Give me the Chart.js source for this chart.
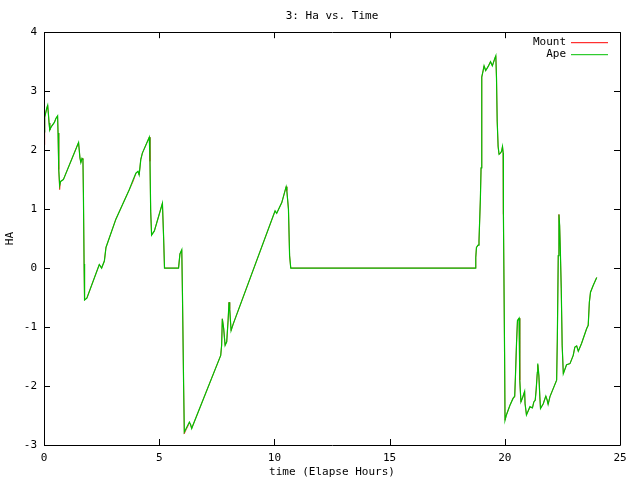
<!DOCTYPE html>
<html>
<head>
<meta charset="utf-8">
<script src="https://cdn.jsdelivr.net/npm/chart.js@4.4.1/dist/chart.umd.min.js"></script>
<style>
  html, body { margin: 0; padding: 0; background: #fff; }
  #wrap { width: 640px; height: 480px; }
</style>
</head>
<body>
<div id="wrap"><canvas id="chart1" width="640" height="480"></canvas></div>
<script>
// elapsed time in hours
const hours = [
    0.00, 0.03, 0.12, 0.16, 0.19, 0.22, 0.25, 0.32, 0.45, 0.52, 0.59, 0.61, 0.64, 0.68, 0.72, 0.84,
    1.50, 1.56, 1.60, 1.65, 1.69, 1.71, 1.74, 1.76, 1.86, 2.40, 2.50, 2.62, 2.69, 3.12, 3.70, 3.87,
    3.99, 4.08, 4.13, 4.20, 4.27, 4.57, 4.60, 4.63, 4.67, 4.79, 5.14, 5.19, 5.23, 5.84, 5.90, 5.98,
    6.01, 6.06, 6.09, 6.17, 6.31, 6.36, 6.41, 6.46, 7.67, 7.71, 7.74, 7.80, 7.86, 7.93, 7.99, 8.03,
    8.06, 8.12, 8.21, 10.03, 10.10, 10.32, 10.51, 10.54, 10.61, 10.66, 10.71, 18.71, 18.74, 18.77,
    18.84, 18.88, 18.94, 18.97, 18.99, 19.01, 19.06, 19.10, 19.17, 19.28, 19.38, 19.46, 19.57, 19.61,
    19.64, 19.67, 19.71, 19.75, 19.81, 19.86, 19.90, 19.93, 19.94, 19.99, 20.01, 20.07, 20.22, 20.36,
    20.43, 20.46, 20.51, 20.55, 20.62, 20.65, 20.70, 20.77, 20.86, 20.88, 20.94, 21.09, 21.20, 21.26,
    21.32, 21.36, 21.41, 21.43, 21.48, 21.52, 21.55, 21.67, 21.78, 21.84, 21.88, 21.96, 22.25, 22.28,
    22.32, 22.35, 22.38, 22.41, 22.45, 22.49, 22.54, 22.68, 22.83, 22.97, 23.04, 23.12, 23.19, 23.33,
    23.55, 23.62, 23.67, 23.72, 23.84, 23.99
];

const ape = [
    2.31, 2.56, 2.71, 2.76, 2.62, 2.46, 2.34, 2.40, 2.47, 2.54, 2.58, 2.29, 1.67, 1.40, 1.47, 1.50,
    2.13, 1.87, 1.79, 1.86, 1.84, 1.28, 0.07, -0.54, -0.51, 0.06, 0.00, 0.12, 0.35, 0.83, 1.33, 1.50,
    1.61, 1.64, 1.58, 1.84, 1.95, 2.22, 1.81, 0.97, 0.56, 0.63, 1.10, 0.54, 0.00, 0.00, 0.24, 0.31,
    -0.46, -1.99, -2.78, -2.72, -2.61, -2.65, -2.72, -2.67, -1.48, -1.31, -0.86, -1.03, -1.31, -1.25, -0.89, -0.58,
    -0.69, -1.06, -0.95, 0.97, 0.93, 1.11, 1.38, 1.31, 1.00, 0.21, 0.00, 0.00, 0.18, 0.35,
    0.39, 0.46, 1.17, 1.70, 2.52, 3.24, 3.35, 3.43, 3.35, 3.42, 3.50, 3.43, 3.56, 3.60,
    3.22, 2.49, 2.07, 1.93, 1.95, 1.98, 2.06, 1.95, 0.91, -1.42, -2.58, -2.49, -2.33, -2.21,
    -2.17, -1.86, -1.26, -0.89, -0.85, -1.90, -2.27, -2.20, -2.09, -2.30, -2.49, -2.35, -2.37, -2.27,
    -2.24, -2.07, -1.77, -1.62, -1.82, -2.18, -2.38, -2.30, -2.17, -2.24, -2.31, -2.18, -1.90, -1.20,
    0.21, 0.91, 0.72, 0.31, -0.35, -1.31, -1.79, -1.64, -1.62, -1.48, -1.34, -1.32, -1.41, -1.28,
    -1.03, -0.97, -0.58, -0.41, -0.29, -0.16
];

const mount = [
    2.09, 2.56, 2.71, 2.76, 2.62, 2.46, 2.34, 2.40, 2.47, 2.54, 2.58, 2.29, 1.67, 1.33, 1.47, 1.50,
    2.13, 1.87, 1.79, 1.86, 1.84, 1.28, 0.07, -0.54, -0.51, 0.06, 0.00, 0.12, 0.35, 0.83, 1.33, 1.47,
    1.61, 1.64, 1.58, 1.84, 1.95, 2.22, 1.81, 0.97, 0.56, 0.63, 1.10, 0.54, 0.00, 0.00, 0.24, 0.31,
    -0.46, -1.99, -2.81, -2.74, -2.63, -2.65, -2.72, -2.67, -1.48, -1.31, -0.86, -1.03, -1.31, -1.25, -0.89, -0.58,
    -0.69, -1.06, -0.95, 0.97, 0.93, 1.11, 1.38, 1.31, 1.00, 0.21, 0.00, 0.00, 0.18, 0.35,
    0.39, 0.46, 1.17, 1.70, 2.50, 3.24, 3.35, 3.43, 3.35, 3.42, 3.50, 3.43, 3.56, 3.60,
    3.22, 2.49, 2.05, 1.93, 1.95, 1.98, 2.06, 1.95, 0.91, -1.42, -2.58, -2.49, -2.33, -2.20,
    -2.19, -1.86, -1.26, -0.89, -0.85, -1.90, -2.27, -2.20, -2.09, -2.30, -2.49, -2.36, -2.37, -2.27,
    -2.24, -2.07, -1.79, -1.64, -1.85, -2.18, -2.38, -2.30, -2.17, -2.24, -2.31, -2.18, -1.90, -1.20,
    0.21, 0.91, 0.72, 0.31, -0.35, -1.31, -1.79, -1.64, -1.62, -1.48, -1.34, -1.32, -1.41, -1.28,
    -1.03, -0.97, -0.58, -0.41, -0.29, -0.16
];

const seriesNames = ['Mount', 'Ape'];
const seriesColors = ['#ff0000', '#00c000'];
const xTicks = [0, 5, 10, 15, 20, 25];
const yTicks = [-3, -2, -1, 0, 1, 2, 3, 4];

const FONT = 'DejaVu Sans Mono';

function toPoints(values){
    return hours.map((h, i) => ({ x: h, y: values[i] }));
}

// gnuplot style frame, inward ticks on all four sides and the key
const framePlugin = {
    id: 'frame',
    afterDraw(chart){
        const ctx = chart.ctx;
        const a = chart.chartArea;
        const xs = chart.scales.x;
        const ys = chart.scales.y;
        ctx.save();
        ctx.strokeStyle = '#000';
        ctx.lineWidth = 1;
        ctx.beginPath();
        ctx.rect(Math.round(a.left) + 0.5, Math.round(a.top) + 0.5,
                 Math.round(a.right - a.left), Math.round(a.bottom - a.top));
        xTicks.forEach(v => {
            const px = Math.round(xs.getPixelForValue(v)) + 0.5;
            ctx.moveTo(px, a.bottom); ctx.lineTo(px, a.bottom - 6);
            ctx.moveTo(px, a.top); ctx.lineTo(px, a.top + 6);
        });
        yTicks.forEach(v => {
            const py = Math.round(ys.getPixelForValue(v)) + 0.5;
            ctx.moveTo(a.left, py); ctx.lineTo(a.left + 6, py);
            ctx.moveTo(a.right, py); ctx.lineTo(a.right - 6, py);
        });
        ctx.stroke();

        // key
        ctx.font = '11px "' + FONT + '"';
        ctx.textAlign = 'right';
        ctx.textBaseline = 'middle';
        seriesNames.forEach((name, i) => {
            const y = a.top + 10 + i * 12;
            ctx.fillStyle = '#000';
            ctx.fillText(name, a.right - 54, y);
            ctx.strokeStyle = seriesColors[i];
            ctx.beginPath();
            ctx.moveTo(a.right - 49, y + 0.5);
            ctx.lineTo(a.right - 12, y + 0.5);
            ctx.stroke();
        });
        ctx.restore();
    }
};

function loadChart(){
    const ctx1 = document.getElementById('chart1').getContext('2d');

    const data = {
        datasets: [
            {
                label: seriesNames[0],
                data: toPoints(mount),
                borderColor: seriesColors[0],
                borderWidth: 0.7,
                pointRadius: 0,
                tension: 0,
                order: 2
            },
            {
                label: seriesNames[1],
                data: toPoints(ape),
                borderColor: seriesColors[1],
                borderWidth: 1.2,
                pointRadius: 0,
                tension: 0,
                order: 1
            }
        ]
    };

    const config = {
        type: 'line',
        data: data,
        options: {
            responsive: false,
            animation: false,
            layout: { padding: { top: 0, left: 0, right: 20, bottom: 0 } },
            plugins: {
                legend: { display: false },
                tooltip: { enabled: false },
                title: {
                    display: true,
                    text: '3: Ha vs. Time',
                    color: '#000',
                    fullSize: false,
                    font: { family: FONT, size: 11, weight: 'normal' },
                    padding: { top: 10, bottom: 9 }
                }
            },
            scales: {
                x: {
                    type: 'linear',
                    min: 0,
                    max: 25,
                    afterFit(scale){ scale.height = 35; },
                    afterBuildTicks(scale){ scale.ticks = xTicks.map(v => ({ value: v })); },
                    grid: { display: false, drawTicks: false },
                    border: { display: false },
                    ticks: {
                        color: '#000',
                        padding: 7,
                        maxRotation: 0,
                        font: { family: FONT, size: 11 }
                    },
                    title: {
                        display: true,
                        text: 'time (Elapse Hours)',
                        color: '#000',
                        font: { family: FONT, size: 11 },
                        padding: { top: 0, bottom: 1 }
                    }
                },
                y: {
                    type: 'linear',
                    min: -3,
                    max: 4,
                    afterFit(scale){ scale.width = 44; },
                    afterBuildTicks(scale){ scale.ticks = yTicks.map(v => ({ value: v })); },
                    grid: { display: false, drawTicks: false },
                    border: { display: false },
                    ticks: {
                        color: '#000',
                        padding: 7,
                        font: { family: FONT, size: 11 }
                    },
                    title: {
                        display: true,
                        text: 'HA',
                        color: '#000',
                        font: { family: FONT, size: 11 },
                        padding: { top: 4, bottom: 0 }
                    }
                }
            }
        },
        plugins: [framePlugin]
    };

    const chart1 = new Chart(ctx1, config);
}

loadChart();
</script>
</body>
</html>
